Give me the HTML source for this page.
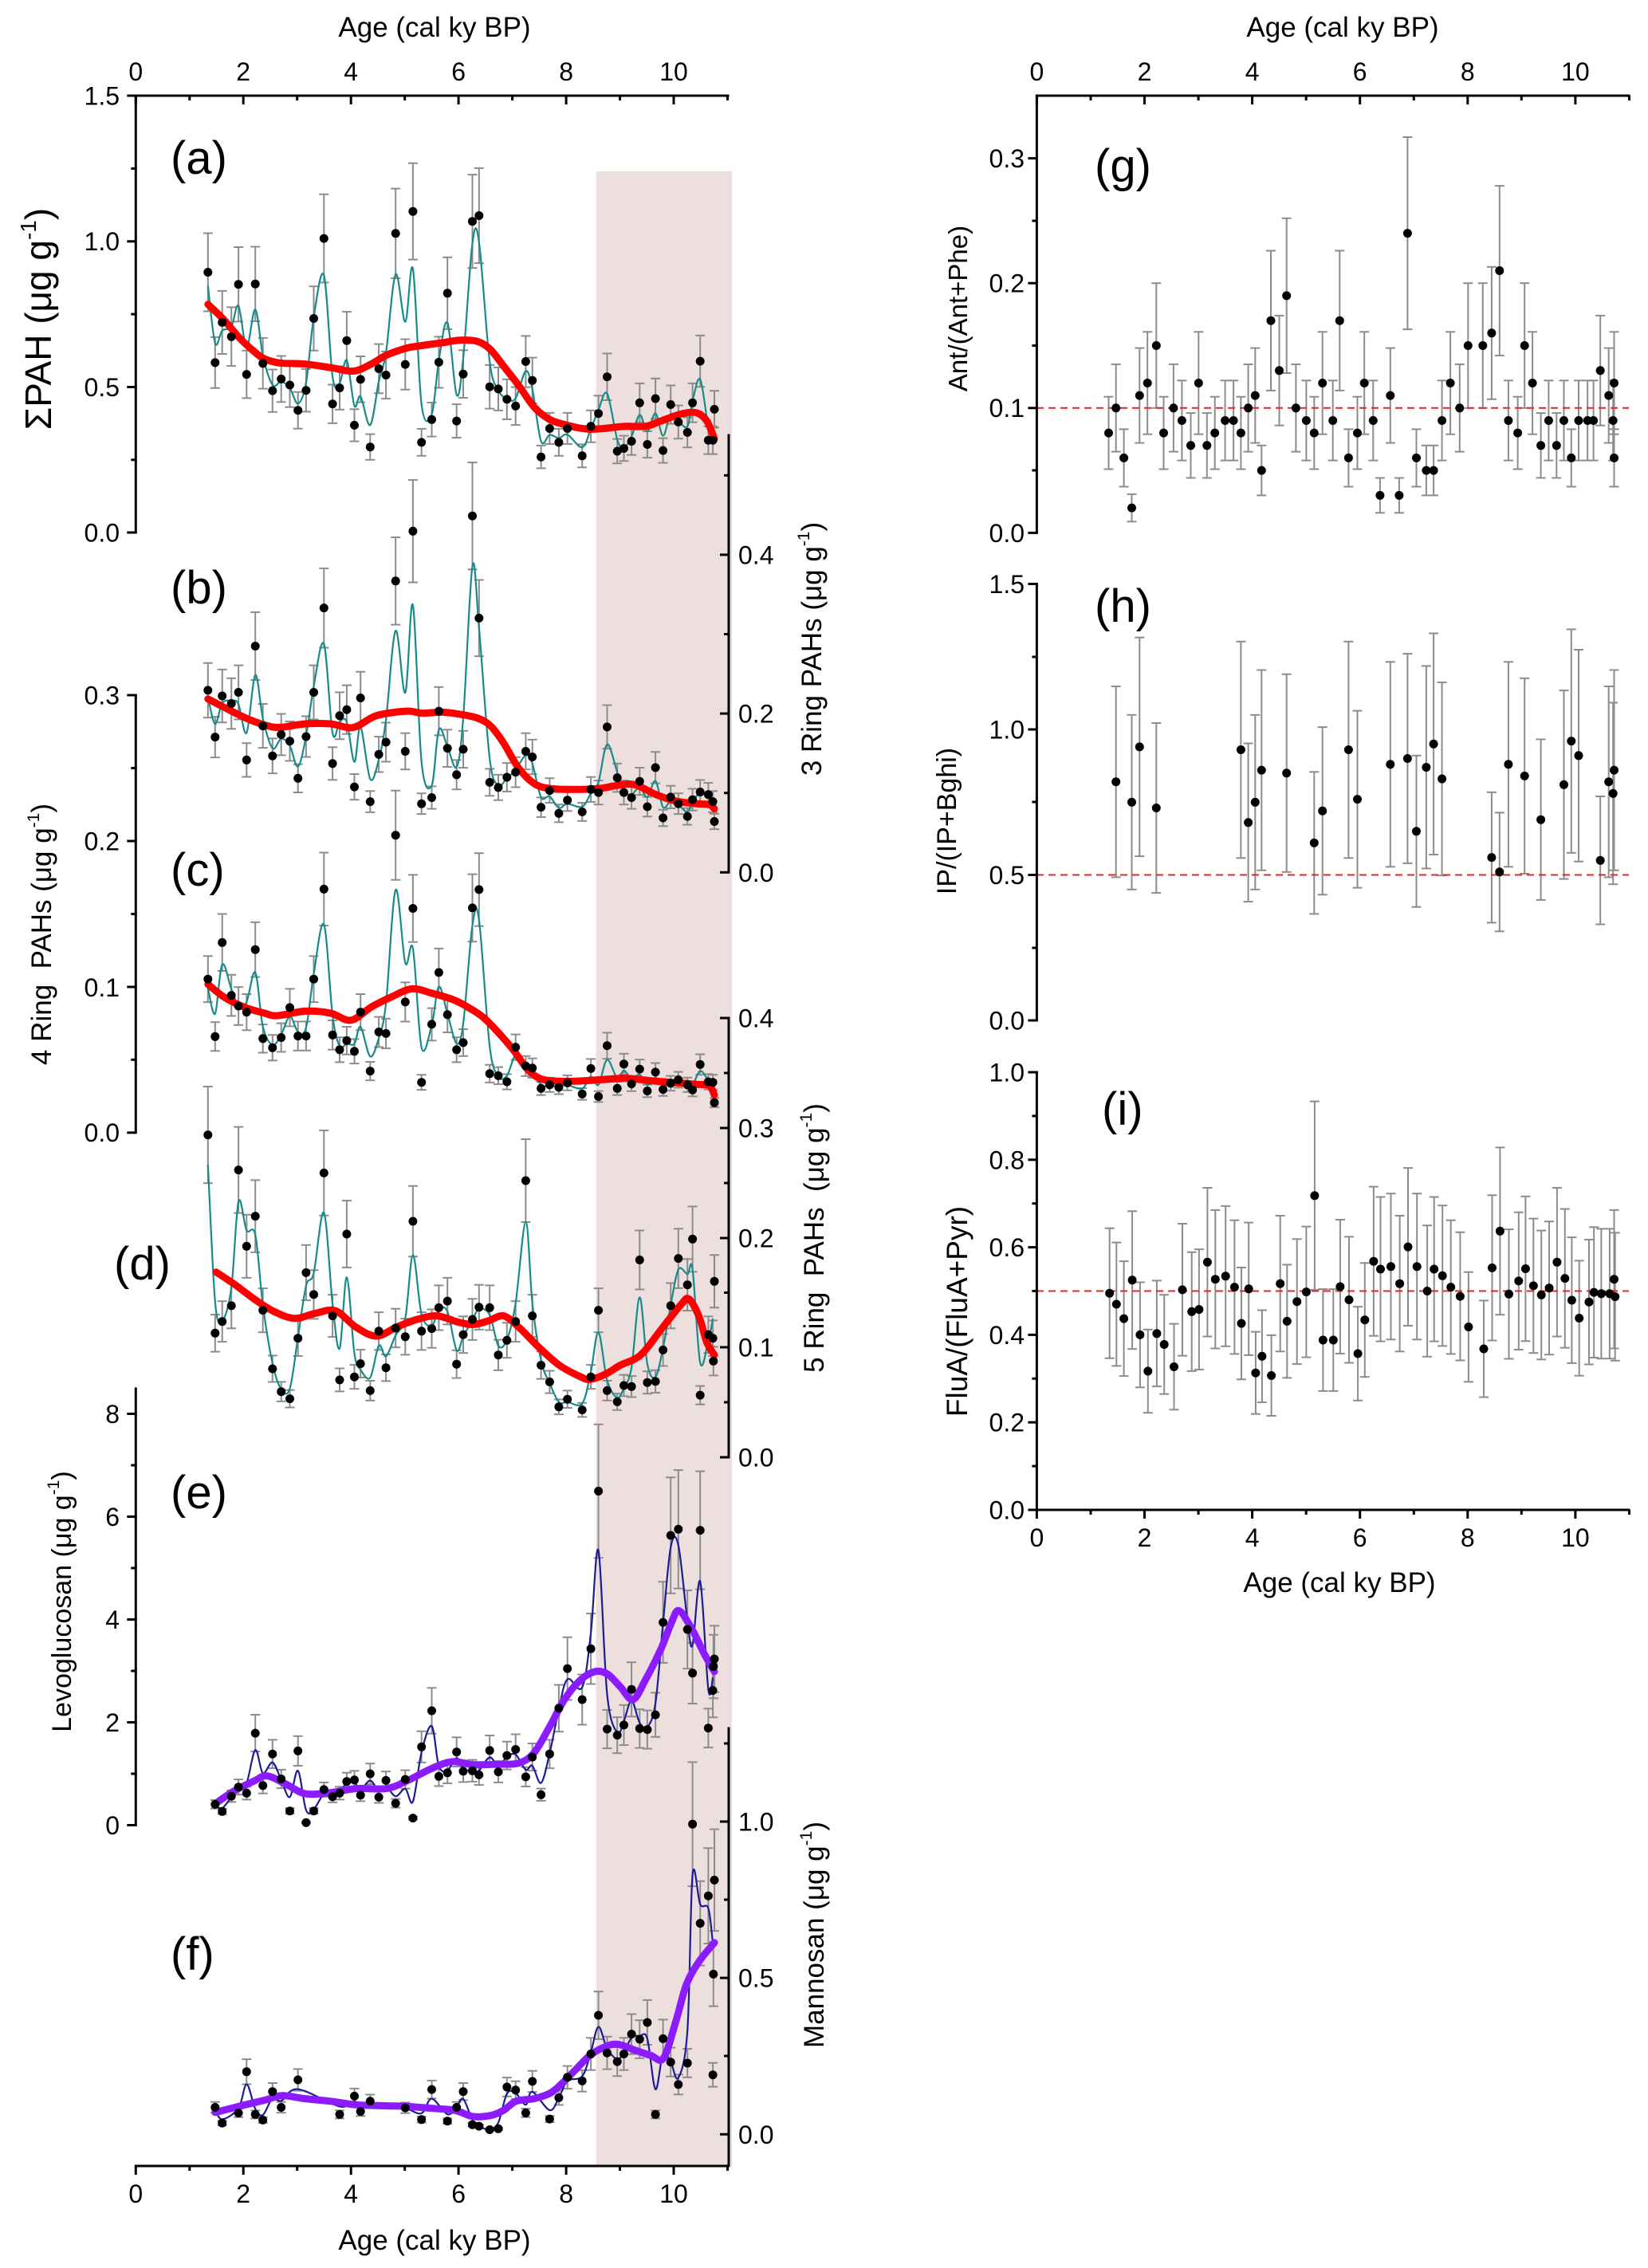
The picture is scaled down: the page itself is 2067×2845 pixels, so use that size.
<!DOCTYPE html>
<html>
<head>
<meta charset="utf-8">
<style>
  html,body{margin:0;padding:0;background:#fff;}
  svg{display:block;}
  text{font-family:"Liberation Sans",Arial,sans-serif;fill:#000;}
  .pre{white-space:pre;}
</style>
</head>
<body>
<svg id="s" xmlns="http://www.w3.org/2000/svg" width="2067" height="2845" viewBox="0 0 2067 2845">
<rect x="0" y="0" width="2067" height="2845" fill="#fff"/>
<rect x="747.5" y="215" width="170.5" height="2502" fill="#eedfdf"/>
<g id="gerr"></g>
<g id="gthin"></g>
<g id="gthick"></g>
<g id="gref"></g>
<g id="gmark"></g>
<g id="gaxes"></g>

<!-- Axis titles -->
<text x="545" y="46" font-size="35" text-anchor="middle">Age (cal ky BP)</text>
<text x="1684" y="46" font-size="35" text-anchor="middle">Age (cal ky BP)</text>
<text x="545" y="2822" font-size="35" text-anchor="middle">Age (cal ky BP)</text>
<text x="1680" y="1997" font-size="35" text-anchor="middle">Age (cal ky BP)</text>

<!-- Top axis labels left -->
<g font-size="32" text-anchor="middle">
<text x="170.3" y="101">0</text><text x="305.2" y="101">2</text><text x="440.2" y="101">4</text><text x="575.1" y="101">6</text><text x="710.1" y="101">8</text><text x="845" y="101">10</text>
<text x="170.3" y="2763">0</text><text x="305.2" y="2763">2</text><text x="440.2" y="2763">4</text><text x="575.1" y="2763">6</text><text x="710.1" y="2763">8</text><text x="845" y="2763">10</text>
<text x="1300.4" y="101">0</text><text x="1435.5" y="101">2</text><text x="1570.6" y="101">4</text><text x="1705.7" y="101">6</text><text x="1840.8" y="101">8</text><text x="1975.9" y="101">10</text>
<text x="1300.4" y="1940">0</text><text x="1435.5" y="1940">2</text><text x="1570.6" y="1940">4</text><text x="1705.7" y="1940">6</text><text x="1840.8" y="1940">8</text><text x="1975.9" y="1940">10</text>
</g>

<!-- Left y tick labels -->
<g font-size="32" text-anchor="end">
<text x="150" y="131.5">1.5</text><text x="150" y="314">1.0</text><text x="150" y="497">0.5</text><text x="150" y="679.5">0.0</text>
<text x="150" y="883.5">0.3</text><text x="150" y="1066.5">0.2</text><text x="150" y="1250">0.1</text><text x="150" y="1432">0.0</text>
<text x="150" y="1785">8</text><text x="150" y="1914">6</text><text x="150" y="2043">4</text><text x="150" y="2172">2</text><text x="150" y="2301">0</text>
<text x="1285" y="210">0.3</text><text x="1285" y="366.5">0.2</text><text x="1285" y="523">0.1</text><text x="1285" y="680">0.0</text>
<text x="1285" y="744">1.5</text><text x="1285" y="926.5">1.0</text><text x="1285" y="1109">0.5</text><text x="1285" y="1291.5">0.0</text>
<text x="1285" y="1356.5">1.0</text><text x="1285" y="1466.3">0.8</text><text x="1285" y="1576">0.6</text><text x="1285" y="1686">0.4</text><text x="1285" y="1795.7">0.2</text><text x="1285" y="1905.5">0.0</text>
</g>
<!-- Right y tick labels (left column) -->
<g font-size="32" text-anchor="start">
<text x="926" y="707.5">0.4</text><text x="926" y="906.5">0.2</text><text x="926" y="1106">0.0</text>
<text x="926" y="1288.5">0.4</text><text x="926" y="1426.5">0.3</text><text x="926" y="1564.5">0.2</text><text x="926" y="1701.5">0.1</text><text x="926" y="1839.5">0.0</text>
<text x="926" y="2296.5">1.0</text><text x="926" y="2492.5">0.5</text><text x="926" y="2689">0.0</text>
</g>

<!-- Y titles -->
<text transform="translate(64,400) rotate(-90)" font-size="46" text-anchor="middle">ΣPAH (μg g<tspan dy="-19" font-size="28">-1</tspan><tspan dy="19">)</tspan></text>
<text class="pre" transform="translate(64,1172) rotate(-90)" font-size="35" text-anchor="middle">4 Ring  PAHs (μg g<tspan dy="-15" font-size="21">-1</tspan><tspan dy="15">)</tspan></text>
<text transform="translate(89,2009) rotate(-90)" font-size="34" text-anchor="middle">Levoglucosan (μg g<tspan dy="-15" font-size="21">-1</tspan><tspan dy="15">)</tspan></text>
<text transform="translate(1030,814) rotate(-90)" font-size="35" text-anchor="middle">3 Ring PAHs (μg g<tspan dy="-15" font-size="21">-1</tspan><tspan dy="15">)</tspan></text>
<text class="pre" transform="translate(1033,1553) rotate(-90)" font-size="35" text-anchor="middle">5 Ring  PAHs  (μg g<tspan dy="-15" font-size="21">-1</tspan><tspan dy="15">)</tspan></text>
<text transform="translate(1033,2427) rotate(-90)" font-size="35" text-anchor="middle">Mannosan (μg g<tspan dy="-15" font-size="21">-1</tspan><tspan dy="15">)</tspan></text>
<text transform="translate(1213,387) rotate(-90)" font-size="33" text-anchor="middle">Ant/(Ant+Phe)</text>
<text transform="translate(1199,1030) rotate(-90)" font-size="34" text-anchor="middle">IP/(IP+Bghi)</text>
<text transform="translate(1213,1645) rotate(-90)" font-size="37" text-anchor="middle">FluA/(FluA+Pyr)</text>

<!-- Panel labels -->
<g font-size="58">
<text x="214" y="218">(a)</text>
<text x="214" y="757">(b)</text>
<text x="214" y="1111">(c)</text>
<text x="143" y="1605">(d)</text>
<text x="214" y="1892">(e)</text>
<text x="214" y="2471">(f)</text>
<text x="1373" y="228">(g)</text>
<text x="1373" y="780">(h)</text>
<text x="1382" y="1411">(i)</text>
</g>
</svg>

<script>
(function(){
const NS='http://www.w3.org/2000/svg';
const G=id=>document.getElementById(id);
function el(tag,attrs,parent){const e=document.createElementNS(NS,tag);for(const k in attrs)e.setAttribute(k,attrs[k]);parent.appendChild(e);return e;}
function f(v){return v.toFixed(1);}
function cr(p){let d='M'+f(p[0][0])+','+f(p[0][1]);for(let i=0;i<p.length-1;i++){const p0=p[i-1]||p[i],p1=p[i],p2=p[i+1],p3=p[i+2]||p2;const c1x=p1[0]+(p2[0]-p0[0])/6,c1y=p1[1]+(p2[1]-p0[1])/6,c2x=p2[0]-(p3[0]-p1[0])/6,c2y=p2[1]-(p3[1]-p1[1])/6;d+=' C'+f(c1x)+','+f(c1y)+' '+f(c2x)+','+f(c2y)+' '+f(p2[0])+','+f(p2[1]);}return d;}
function thin(pts){const s=pts.map(p=>[p[0],p[1]]).sort((a,b)=>a[0]-b[0]);const m=[];for(const p of s){if(m.length&&p[0]-m[m.length-1][0]<3){const q=m[m.length-1];q[1]=(q[1]+p[1])/2;}else m.push([p[0],p[1]]);}const sm=m.map((p,i)=>{const a=m[i-1]||p,b=m[i+1]||p;return [p[0],0.15*a[1]+0.7*p[1]+0.15*b[1]];});return cr(sm);}
const gerr=G('gerr'),gthin=G('gthin'),gthick=G('gthick'),gmark=G('gmark'),gax=G('gaxes'),gref=G('gref');
const EC='#8c8c8c';
function ebar(x,y1,y2){el('line',{x1:f(x),y1:f(y1),x2:f(x),y2:f(y2),stroke:EC,'stroke-width':2},gerr);el('line',{x1:f(x-6),y1:f(y1),x2:f(x+6),y2:f(y1),stroke:EC,'stroke-width':2},gerr);el('line',{x1:f(x-6),y1:f(y2),x2:f(x+6),y2:f(y2),stroke:EC,'stroke-width':2},gerr);}
function dot(x,y){el('circle',{cx:f(x),cy:f(y),r:5.5,fill:'#000'},gmark);}

const A=[[409,767],[423,1021],[437,908],[455,948],[469,801],[485,1054],[502,800],[517,1023],[536,1100],[553,1067],[570,1084],[586,1155],[602,1099],[617,897],[637,672],[654,1137],[668,1092],[682,959],[697,1197],[709,1068],[728,1258],[745,1038],[759,1056],[778,658],[797,1026],[812,596],[829,1245],[849,1181],[863,1020],[880,826],[898,1185],[911,1053],[929,624],[942,608],[963,1089],[980,1095],[997,1124],[1014,1143],[1034,1018],[1047,1071],[1064,1286],[1081,1206],[1099,1245],[1116,1206],[1145,1283],[1162,1200],[1177,1164],[1194,1061],[1214,1270],[1227,1262],[1242,1242],[1258,1134],[1273,1251],[1289,1122],[1304,1268],[1319,1139],[1334,1188],[1352,1217],[1362,1134],[1377,1017],[1393,1239],[1402,1239],[1405,1152]];
const Ared=[[409,857],[440,900],[470,950],[500,990],[520,1010],[550,1022],[600,1025],[650,1035],[695,1045],[730,1025],[760,1000],[800,980],[820,975],[870,965],[905,958],[940,962],[965,985],[990,1030],[1020,1085],[1050,1145],[1080,1180],[1110,1195],[1150,1207],[1180,1207],[1230,1200],[1270,1200],[1300,1185],[1340,1165],[1370,1162],[1390,1185],[1405,1235]];
const B=[[409,417],[423,509],[437,428],[455,443],[469,421],[485,554],[502,330],[517,487],[536,546],[553,504],[570,517],[586,590],[602,508],[617,421],[637,255],[654,561],[668,467],[682,455],[697,607],[709,432],[728,636],[745,543],[759,519],[778,202],[797,537],[812,104],[829,640],[849,628],[863,458],[880,531],[898,583],[911,533],[929,74],[942,275],[963,598],[980,608],[997,588],[1014,578],[1034,537],[1047,548],[1064,647],[1081,614],[1099,659],[1116,633],[1145,656],[1162,612],[1177,618],[1194,489],[1214,589],[1227,618],[1242,628],[1258,596],[1273,646],[1289,569],[1304,668],[1319,627],[1334,640],[1352,665],[1362,632],[1377,617],[1393,622],[1402,636],[1405,675]];
const Bred=[[409,434],[440,450],[480,470],[520,485],[550,490],[600,483],[650,483],[695,490],[740,467],[800,458],[830,462],[870,460],[910,465],[940,472],[965,487],[990,520],[1020,570],[1050,600],[1080,610],[1130,612],[1180,610],[1220,603],[1250,603],[1290,622],[1330,635],[1370,640],[1395,642],[1405,650]];
const C=[[409,985],[423,1098],[437,913],[455,1017],[469,1038],[485,1050],[502,927],[517,1102],[536,1120],[553,1100],[570,1041],[586,1097],[602,1097],[617,985],[637,808],[654,1095],[668,1124],[682,1106],[697,1127],[709,1050],[728,1166],[745,1089],[759,1092],[778,702],[797,1030],[812,846],[829,1188],[849,1074],[863,972],[880,1055],[898,1124],[911,1110],[929,845],[942,809],[963,1171],[980,1175],[997,1187],[1014,1119],[1034,1156],[1047,1160],[1064,1200],[1081,1193],[1099,1198],[1116,1189],[1145,1211],[1162,1161],[1177,1216],[1194,1116],[1214,1200],[1227,1152],[1242,1191],[1258,1162],[1273,1205],[1289,1168],[1304,1202],[1319,1190],[1334,1183],[1352,1193],[1362,1203],[1377,1153],[1393,1187],[1402,1188],[1405,1228]];
const Cred=[[409,995],[440,1020],[480,1040],[520,1052],[545,1057],[600,1048],[650,1052],[690,1066],[730,1040],[770,1020],[810,1004],[850,1013],[890,1025],[920,1040],[950,1060],[980,1090],[1010,1125],[1040,1165],[1070,1183],[1120,1186],[1180,1183],[1230,1180],[1280,1185],[1320,1188],[1370,1192],[1395,1195],[1405,1213]];
const D=[[409,37],[423,427],[437,404],[455,373],[469,106],[485,256],[502,197],[517,382],[536,497],[553,542],[570,556],[586,437],[602,308],[617,351],[637,112],[654,393],[668,519],[682,232],[697,513],[709,487],[728,540],[745,423],[759,495],[778,417],[797,434],[812,207],[829,423],[849,418],[863,377],[880,364],[898,488],[911,430],[929,400],[942,376],[963,377],[980,470],[997,441],[1014,404],[1034,127],[1047,393],[1064,490],[1081,523],[1099,572],[1116,557],[1145,578],[1162,513],[1177,382],[1194,540],[1214,562],[1227,530],[1242,532],[1258,283],[1273,524],[1289,522],[1304,460],[1319,373],[1334,280],[1352,332],[1362,242],[1377,549],[1393,430],[1402,437],[1403,482],[1405,325]];
const Dred=[[425,307],[460,330],[500,360],[540,385],[580,398],[620,388],[660,383],[700,415],[740,433],[780,415],[820,400],[860,393],[900,405],[930,410],[960,403],[990,393],[1020,415],[1060,455],[1100,490],[1140,512],[1160,518],[1190,508],[1220,490],[1260,470],[1300,420],[1340,370],[1355,360],[1375,395],[1390,445],[1405,470]];
const E=[[423,656],[437,670],[455,640],[469,622],[485,634],[502,516],[517,619],[536,557],[553,606],[570,669],[586,551],[602,692],[617,669],[637,627],[654,641],[668,634],[682,611],[697,608],[709,638],[728,596],[745,642],[759,609],[778,654],[797,607],[812,683],[829,543],[849,472],[863,601],[880,594],[898,553],[911,591],[929,590],[942,598],[963,550],[980,592],[997,560],[1014,548],[1034,602],[1047,563],[1064,637],[1081,557],[1099,467],[1116,389],[1145,450],[1162,350],[1177,40],[1194,508],[1214,520],[1227,500],[1242,430],[1258,507],[1273,509],[1289,480],[1304,298],[1319,127],[1334,115],[1352,312],[1362,398],[1377,117],[1393,506],[1402,432],[1403,385],[1405,370]];
const Ered=[[423,655],[460,630],[500,610],[525,600],[560,615],[600,635],[650,633],[700,625],[760,625],[800,610],[850,585],[890,572],[930,578],[980,577],[1020,575],[1050,555],[1080,505],[1110,450],[1140,413],[1170,395],[1195,400],[1220,425],[1245,450],[1270,410],[1300,350],[1320,300],[1335,275],[1360,310],[1385,360],[1405,395]];
const F=[[423,1252],[437,1283],[469,1263],[485,1182],[502,1266],[517,1277],[536,1221],[553,1252],[586,1198],[668,1266],[697,1230],[709,1260],[728,1240],[797,1253],[829,1276],[849,1217],[880,1279],[898,1252],[911,1221],[929,1286],[942,1289],[963,1296],[980,1294],[997,1212],[1014,1218],[1034,1263],[1047,1201],[1081,1275],[1099,1233],[1116,1193],[1145,1200],[1162,1147],[1177,1071],[1194,1145],[1214,1162],[1227,1147],[1242,1108],[1258,1118],[1273,1085],[1289,1266],[1304,1117],[1319,1163],[1334,1207],[1352,1165],[1362,695],[1377,890],[1393,836],[1402,1188],[1403,990],[1405,805]];
const Fred=[[423,1262],[470,1250],[520,1238],[555,1229],[600,1235],[650,1240],[700,1247],[760,1249],[800,1250],[850,1254],[895,1258],[930,1270],[965,1268],[990,1258],[1015,1240],[1050,1235],[1080,1225],[1100,1210],[1130,1180],[1160,1150],[1190,1133],[1215,1128],[1250,1140],[1280,1150],[1305,1155],[1330,1080],[1350,1010],[1375,965],[1405,928]];

const TEAL='#178a8a',RED='#ff0000',NAVY='#1c1c94',PURP='#8c1cff';
const y3=py=>600+py/1.568, y4=py=>1400+py/1.568, y8=py=>1845+py/1.568;
const panels=[
 {d:A,r:Ared,yf:py=>-0.9+0.4464*py,y0:668,ef:.15,tc:TEAL,rc:RED},
 {d:B,r:Bred,yf:y3,y0:1094.3,ef:.15,tc:TEAL,rc:RED},
 {d:C,r:Cred,yf:y3,y0:1420.8,ef:.15,tc:TEAL,rc:RED},
 {d:D,r:Dred,yf:y4,y0:1827.3,ef:.15,tc:TEAL,rc:RED},
 {d:E,r:Ered,yf:y8,y0:2289.5,ef:.2,tc:NAVY,rc:PURP},
 {d:F,r:Fred,yf:y8,y0:2677.3,ef:.2,tc:NAVY,rc:PURP}
];
for(const P of panels){
  const pts=P.d.map(([px,py])=>[px/1.568,P.yf(py)]);
  for(const [x,y] of pts){const e=P.ef*(P.y0-y);ebar(x,y-e,y+e);}
  el('path',{d:thin(pts),fill:'none',stroke:P.tc,'stroke-width':2.2,'stroke-linejoin':'round'},gthin);
  const rp=P.r.map(([px,py])=>[px/1.568,P.yf(py)]);
  el('path',{d:cr(rp),fill:'none',stroke:P.rc,'stroke-width':9,'stroke-linecap':'round','stroke-linejoin':'round'},gthick);
  for(const [x,y] of pts)dot(x,y);
}

// Right column
const Gd=[[471,.08],[486,.10],[502,.06],[518,.02],[534,.11],[550,.12],[568,.15],[583,.08],[603,.10],[620,.09],[638,.07],[654,.12],[671,.07],[687,.08],[708,.09],[725,.09],[740,.08],[755,.10],[769,.11],[782,.05],[801,.17],[818,.13],[833,.19],[852,.10],[873,.09],[889,.08],[906,.12],[927,.09],[941,.17],[959,.06],[977,.08],[991,.12],[1009,.09],[1023,.03],[1044,.11],[1062,.03],[1079,.24],[1097,.06],[1117,.05],[1132,.05],[1149,.09],[1166,.12],[1185,.10],[1202,.15],[1232,.15],[1250,.16],[1266,.21],[1284,.09],[1303,.08],[1317,.15],[1333,.12],[1350,.07],[1366,.09],[1382,.07],[1397,.09],[1412,.06],[1427,.09],[1445,.09],[1457,.09],[1471,.13],[1488,.11],[1497,.09],[1499,.12],[1499,.06]];
const Hd=[[486,.82],[518,.75],[534,.94],[568,.73],[740,.93],[755,.68],[769,.75],[782,.86],[833,.85],[889,.61],[906,.72],[959,.93],[977,.76],[1044,.88],[1079,.90],[1097,.65],[1117,.87],[1132,.95],[1149,.83],[1250,.56],[1266,.51],[1284,.88],[1317,.84],[1350,.69],[1397,.81],[1412,.96],[1427,.91],[1471,.55],[1488,.82],[1497,.78],[1499,.86]];
const Id=[[473,.495],[487,.47],[502,.437],[519,.525],[535,.40],[551,.317],[569,.403],[584,.378],[604,.327],[621,.503],[640,.453],[655,.458],[672,.566],[688,.527],[709,.534],[727,.509],[741,.426],[756,.505],[770,.313],[783,.351],[802,.307],[820,.517],[834,.431],[854,.476],[873,.498],[890,.718],[907,.388],[928,.388],[942,.51],[960,.48],[978,.357],[992,.434],[1010,.568],[1024,.55],[1045,.556],[1063,.517],[1080,.601],[1098,.556],[1119,.50],[1133,.55],[1150,.535],[1167,.509],[1186,.488],[1203,.418],[1234,.368],[1251,.553],[1267,.637],[1285,.493],[1305,.523],[1319,.551],[1335,.512],[1351,.491],[1367,.507],[1383,.566],[1399,.529],[1413,.479],[1428,.438],[1448,.475],[1458,.497],[1473,.494],[1490,.494],[1499,.527],[1501,.487]];
const RX=px=>1100+px/1.6215;
const rpanels=[
 {d:Gd,y0:668.4,k:1566,err:v=>Math.max(0.01,0.3*v+0.005),ref:0.1},
 {d:Hd,y0:1280,k:365,err:v=>0.4*v,ref:0.5},
 {d:Id,y0:1894,k:549,err:v=>0.3*v,ref:0.5}
];
for(const P of rpanels){
  const Y=v=>P.y0-P.k*v;
  for(const [px,v] of P.d){const x=RX(px),e=P.err(v);ebar(x,Y(v+e),Y(v-e));}
  el('line',{x1:1300,y1:f(Y(P.ref)),x2:2043,y2:f(Y(P.ref)),stroke:'#e3262b','stroke-width':2,'stroke-dasharray':'9,6'},gref);
  for(const [px,v] of P.d)dot(RX(px),Y(v));
}

// Axes
const AW=3;
function ln(x1,y1,x2,y2){el('line',{x1:f(x1),y1:f(y1),x2:f(x2),y2:f(y2),stroke:'#000','stroke-width':AW},gax);}
function vaxis(x,yt,yb,maj,mnr){ln(x,yt-1.5,x,yb+1.5);for(const y of maj)ln(x-11,y,x,y);for(const y of mnr)ln(x-6,y,x,y);}
function haxis(y,x0,k,xe){ln(x0-1.5,y,xe+1.5,y);for(let a=0;a<=11;a++){const x=x0+k*a;if(x>xe+1)break;ln(x,y,x,y+(a%2===0?11:6));}}
// left column
haxis(120,170.3,67.47,913);
haxis(2717,170.3,67.47,914);
vaxis(170.3,120,668,[120,302.75,485.5,668],[211.4,394.1,576.8]);
vaxis(914,546,1094.3,[695.9,895.1,1094.3],[596.3,795.5,994.7]);
vaxis(170.3,872,1420.8,[872,1055,1238,1420.8],[963.5,1146.5,1329.3]);
vaxis(914,1277,1828,[1277,1415,1553,1690,1828],[1346,1484,1621.5,1759]);
vaxis(170.3,1742,2289.5,[1773.5,1902.5,2031.5,2160.5,2289.5],[1838,1967,2096,2225]);
vaxis(914,2168,2717,[2285,2481.1,2677.3],[2187,2383,2579]);
// right column
haxis(120,1300.4,67.55,2043);
haxis(1894,1300.4,67.55,2043);
vaxis(1300.4,120,668.4,[198.6,355.2,511.8,668.4],[277,433.5,590]);
vaxis(1300.4,732.5,1280,[732.5,915,1097.5,1280],[824,1006,1189]);
vaxis(1300.4,1345,1894,[1345,1454.8,1564.6,1674.4,1784.2,1894],[1399.9,1509.7,1619.5,1729.3,1839.1]);
})();
</script>
</body>
</html>
